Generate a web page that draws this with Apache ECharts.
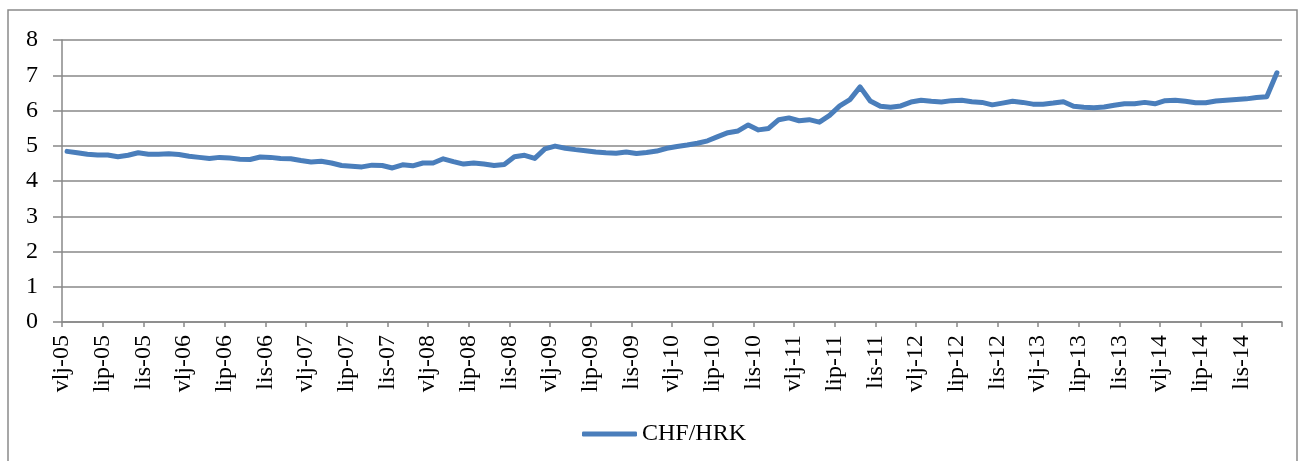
<!DOCTYPE html>
<html>
<head>
<meta charset="utf-8">
<script src="https://cdn.jsdelivr.net/npm/echarts@6/dist/echarts.min.js"></script>
<style>
  html, body { margin: 0; padding: 0; background: #fff; }
  #chart { width: 1303px; height: 461px; }
</style>
</head>
<body>
<div id="chart"></div>
<script>
// mjesečni tečaj CHF/HRK, vlj-05 .. sij-15
var monthNames = ["sij", "vlj", "ožu", "tra", "svi", "lip", "srp", "kol", "ruj", "lis", "stu", "pro"];
var startYear = 2005, startMonth = 1; // veljača 2005

var rates = [
  4.84, 4.80, 4.76, 4.74, 4.74, 4.69, 4.73, 4.80, 4.76, 4.76,
  4.77, 4.75, 4.70, 4.67, 4.64, 4.67, 4.65, 4.62, 4.61, 4.68,
  4.67, 4.64, 4.63, 4.58, 4.54, 4.56, 4.51, 4.44, 4.42, 4.40,
  4.45, 4.44, 4.37, 4.46, 4.43, 4.51, 4.51, 4.63, 4.55, 4.48,
  4.51, 4.48, 4.44, 4.47, 4.69, 4.73, 4.64, 4.91, 4.99, 4.93,
  4.89, 4.86, 4.82, 4.80, 4.79, 4.82, 4.78, 4.81, 4.85, 4.93,
  4.98, 5.02, 5.07, 5.14, 5.26, 5.37, 5.42, 5.59, 5.45, 5.49,
  5.74, 5.79, 5.71, 5.74, 5.67, 5.86, 6.13, 6.31, 6.67, 6.27,
  6.12, 6.09, 6.13, 6.24, 6.29, 6.26, 6.24, 6.28, 6.29, 6.25,
  6.23, 6.16, 6.21, 6.26, 6.23, 6.18, 6.18, 6.21, 6.25, 6.12,
  6.09, 6.08, 6.10, 6.15, 6.19, 6.19, 6.23, 6.19, 6.28, 6.29,
  6.26, 6.22, 6.22, 6.27, 6.29, 6.31, 6.33, 6.37, 6.39, 7.07
];

var tickLabels = [
  "vlj-05", "lip-05", "lis-05", "vlj-06", "lip-06", "lis-06",
  "vlj-07", "lip-07", "lis-07", "vlj-08", "lip-08", "lis-08",
  "vlj-09", "lip-09", "lis-09", "vlj-10", "lip-10", "lis-10",
  "vlj-11", "lip-11", "lis-11", "vlj-12", "lip-12", "lis-12",
  "vlj-13", "lip-13", "lis-13", "vlj-14", "lip-14", "lis-14"
];

var categories = [];
for (var i = 0; i < rates.length; i++) {
  var m = (startMonth + i) % 12;
  var y = startYear + Math.floor((startMonth + i) / 12);
  categories.push(monthNames[m] + "-" + String(y).slice(2));
}

var font = "'Liberation Serif', 'Times New Roman', serif";
var gridColor = "#888888";

var myChart = echarts.init(document.getElementById("chart"));
var option = {
  animation: false,
  textStyle: { fontFamily: font },
  graphic: [{
    type: "rect",
    shape: { x: 8, y: 10, width: 1289, height: 470 },
    style: { fill: "none", stroke: "#8a8a8a", lineWidth: 1.5 },
    silent: true
  }],
  grid: { left: 62, right: 21, top: 40, bottom: 139 },
  legend: {
    left: 577,
    top: 417,
    data: ["CHF/HRK"],
    icon: "roundRect",
    itemWidth: 55,
    itemHeight: 5,
    textStyle: { fontFamily: font, fontSize: 24, color: "#000" }
  },
  xAxis: [
    {
      type: "category",
      data: categories,
      boundaryGap: true,
      axisLine: { show: false },
      axisTick: { show: false },
      axisLabel: { show: false },
      splitLine: { show: false }
    },
    {
      type: "value",
      position: "bottom",
      min: 0,
      max: rates.length,
      interval: 4,
      axisLine: { show: true, onZero: false, lineStyle: { color: gridColor, width: 1.5 } },
      axisTick: { show: true, length: 5, lineStyle: { color: gridColor, width: 1.5 } },
      splitLine: { show: false },
      axisLabel: {
        rotate: 90,
        margin: 13,
        fontFamily: font,
        fontSize: 24,
        color: "#000",
        showMaxLabel: true,
        formatter: function (v) {
          return tickLabels[v / 4] || "";
        }
      }
    }
  ],
  yAxis: {
    type: "value",
    min: 0,
    max: 8,
    interval: 1,
    axisLine: { show: true, lineStyle: { color: gridColor, width: 1.5 } },
    axisTick: { show: true, inside: false, length: 9, lineStyle: { color: gridColor, width: 1.5 } },
    splitLine: { show: true, lineStyle: { color: gridColor, width: 1.5 } },
    axisLabel: { margin: 24, fontFamily: font, fontSize: 24, color: "#000" }
  },
  series: [{
    name: "CHF/HRK",
    type: "line",
    xAxisIndex: 0,
    data: rates,
    showSymbol: false,
    symbol: "none",
    lineStyle: { color: "#4a7ebb", width: 5, cap: "round", join: "round" },
    itemStyle: { color: "#4a7ebb" }
  }]
};
myChart.setOption(option);
</script>
</body>
</html>
